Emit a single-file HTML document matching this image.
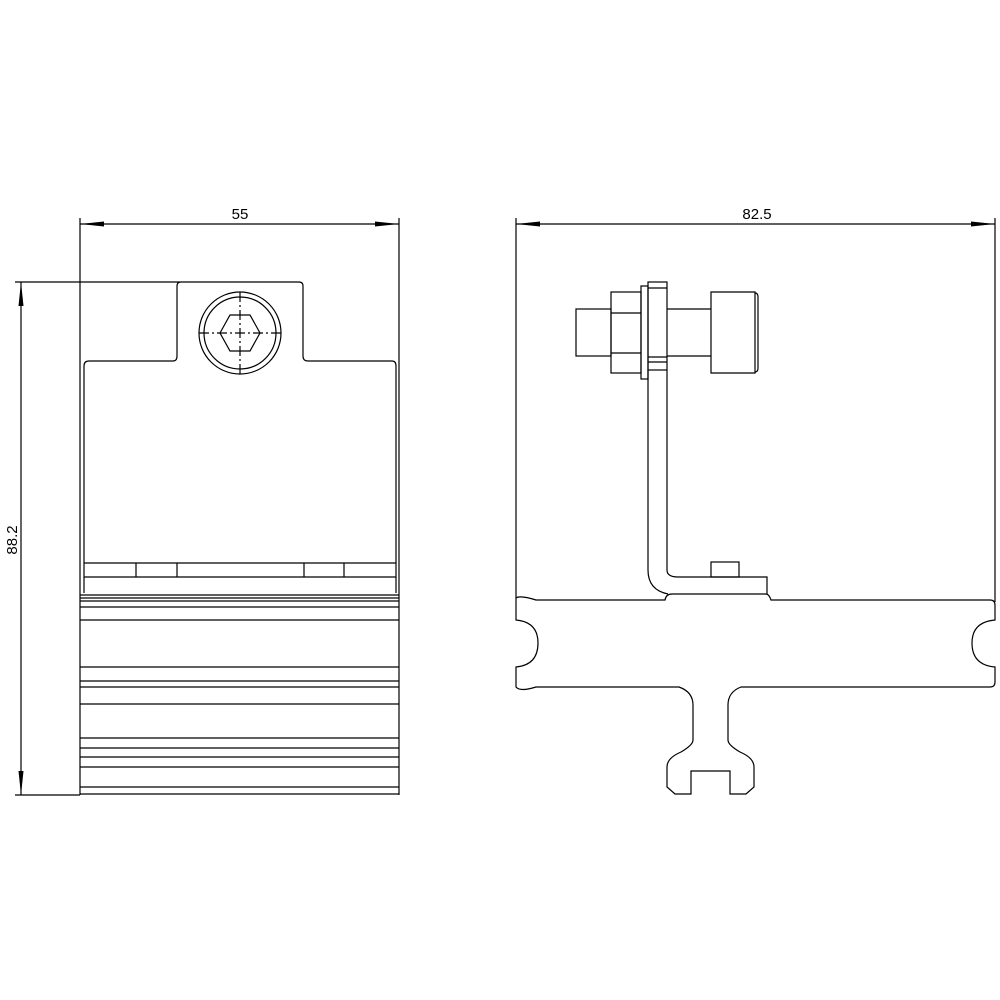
<!DOCTYPE html>
<html><head><meta charset="utf-8"><style>
html,body{margin:0;padding:0;background:#fff;}
svg{display:block}
text{font-family:"Liberation Sans",sans-serif;font-size:15px;fill:#000}
</style></head><body>
<svg width="1000" height="1000" viewBox="0 0 1000 1000" xmlns="http://www.w3.org/2000/svg">
<g fill="none" stroke="#000" stroke-width="1.2">
<!-- LEFT VIEW -->
<line x1="80" y1="218" x2="80" y2="795"/>
<line x1="399" y1="218" x2="399" y2="795"/>
<line x1="80" y1="224" x2="399" y2="224"/>
<line x1="15" y1="282" x2="180" y2="282"/>
<line x1="15" y1="795" x2="80" y2="795"/>
<line x1="21" y1="282" x2="21" y2="795"/>
<path d="M84,593 L84,366 Q84,361 89,361 L173,361 Q177,361 177,356 L177,286 Q177,282 181,282 L299,282 Q303,282 303,286 L303,356 Q303,361 308,361 L392,361 Q396,361 396,366 L396,593"/>
<circle cx="240" cy="333" r="41"/>
<circle cx="240" cy="333" r="36"/>
<polygon points="220,333 230,315 250,315 260,333 250,351 230,351"/>
<line x1="199" y1="333" x2="281" y2="333" stroke-dasharray="10,3,2,3"/>
<line x1="240" y1="292" x2="240" y2="374" stroke-dasharray="10,3,2,3"/>
<line x1="84" y1="563" x2="396" y2="563"/>
<line x1="84" y1="577" x2="396" y2="577"/>
<line x1="136" y1="563" x2="136" y2="577"/>
<line x1="177" y1="563" x2="177" y2="577"/>
<line x1="304" y1="563" x2="304" y2="577"/>
<line x1="344" y1="563" x2="344" y2="577"/>
<g>
<line x1="80" y1="595" x2="399" y2="595"/>
<line x1="80" y1="598" x2="399" y2="598"/>
<line x1="80" y1="601" x2="399" y2="601"/>
<line x1="80" y1="607" x2="399" y2="607"/>
<line x1="80" y1="620" x2="399" y2="620"/>
<line x1="80" y1="667" x2="399" y2="667"/>
<line x1="80" y1="681" x2="399" y2="681"/>
<line x1="80" y1="687" x2="399" y2="687"/>
<line x1="80" y1="704" x2="399" y2="704"/>
<line x1="80" y1="738" x2="399" y2="738"/>
<line x1="80" y1="748" x2="399" y2="748"/>
<line x1="80" y1="757" x2="399" y2="757"/>
<line x1="80" y1="767" x2="399" y2="767"/>
<line x1="80" y1="787" x2="399" y2="787"/>
<line x1="80" y1="794" x2="399" y2="794"/>
</g>
<!-- RIGHT VIEW -->
<line x1="516" y1="218" x2="516" y2="598"/>
<line x1="995" y1="218" x2="995" y2="602"/>
<line x1="516" y1="224" x2="995" y2="224"/>
<path d="M516,598 Q520,595 536,600 L665,600 Q666,594 672,594 L766,594 Q769,594 771,600 L990,600 Q995,600 995,605 L995,620 Q972,622 972,643 Q972,665 995,667 L995,682 Q995,687 990,687 L741,687 Q728,692 728,705 L728,740 Q728,745 740,752 Q754,758 754,767 L754,787 L746,794 L730,794 L730,771 L691,771 L691,794 L675,794 L667,787 L667,767 Q667,758 681,752 Q693,745 693,740 L693,705 Q693,692 679,687 L536,687 Q520,692 516,687 L516,667 Q538,665 538,643 Q538,622 516,620 Z"/>
<!-- bracket -->
<path d="M648,370 L648,570 Q648,590 668,594"/>
<path d="M667,370 L667,570 Q667,577 678,577 L767,577 L767,594"/>
<rect x="711" y="562" width="28" height="15"/>
<rect x="648" y="282" width="19" height="88"/>
<line x1="648" y1="288" x2="667" y2="288"/>
<line x1="648" y1="357" x2="667" y2="357"/>
<line x1="648" y1="362" x2="667" y2="362"/>
<rect x="641" y="286" width="7" height="93"/>
<rect x="611" y="292" width="30" height="81"/>
<line x1="611" y1="313" x2="641" y2="313"/>
<line x1="611" y1="353" x2="641" y2="353"/>
<rect x="576" y="309" width="35" height="47"/>
<line x1="667" y1="309" x2="711" y2="309"/>
<line x1="667" y1="356" x2="711" y2="356"/>
<path d="M711,292 L755,292 L755,373 L711,373 Z"/>
<path d="M755,293 Q758,293 758,297 L758,368 Q758,372 755,372"/>
</g>
<!-- arrows -->
<g fill="#000">
<polygon points="80,224 104,221.5 104,226.5"/>
<polygon points="399,224 375,221.5 375,226.5"/>
<polygon points="516,224 540,221.5 540,226.5"/>
<polygon points="995,224 971,221.5 971,226.5"/>
<polygon points="21,282 18.5,306 23.5,306"/>
<polygon points="21,795 18.5,771 23.5,771"/>
</g>
<text x="240" y="219" text-anchor="middle">55</text>
<text x="757" y="219" text-anchor="middle">82.5</text>
<text x="0" y="0" text-anchor="middle" transform="translate(17,540) rotate(-90)">88.2</text>
</svg>
</body></html>
